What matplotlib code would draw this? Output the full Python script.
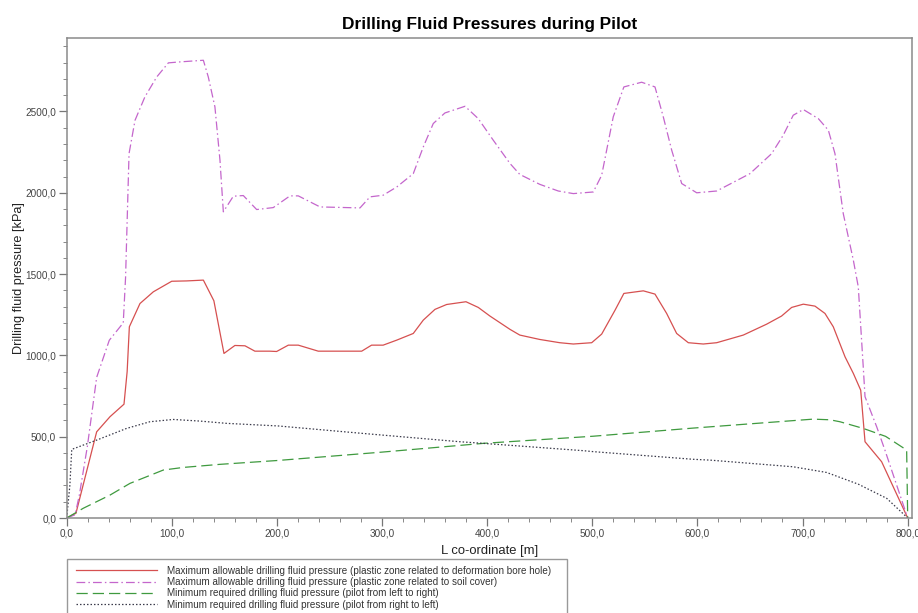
import matplotlib
matplotlib.use("Agg")
import matplotlib.pyplot as plt
from matplotlib.ticker import MultipleLocator, FuncFormatter
from matplotlib.patches import Rectangle

plt.rcParams['font.family'] = ['Liberation Sans', 'DejaVu Sans']

# --- data ---
red_x = [0, 8.8, 28.5, 41.2, 54.5, 57.5, 59.6, 69.7, 82.4, 99.9, 114, 130, 140, 149.6, 160, 169.6, 179,
         193, 199.7, 210.8, 220.3, 239.3, 280.6, 290, 301, 314, 329.7, 339.2, 350.3, 361.4, 379.8,
         391.5, 402.6, 421.7, 431, 450, 469, 481.9, 499.4, 508.9, 521.6, 530, 548.5, 559.6, 570.7,
         580.2, 591.3, 605.5, 618.3, 643.6, 665.8, 680, 689.6, 700.7, 711.8, 721.3, 729.2, 740.4,
         748.3, 755.3, 759.4, 775.2, 800]
red_y = [0, 29, 530, 623, 700, 900, 1176, 1319, 1391, 1456, 1458, 1463, 1336, 1012, 1061, 1059, 1026,
         1026, 1024, 1063, 1063, 1026, 1026, 1063, 1063, 1094, 1135, 1217, 1283, 1313, 1330,
         1295, 1242, 1160, 1125, 1098, 1078, 1070, 1078, 1131, 1278, 1381, 1397, 1377, 1258,
         1135, 1078, 1070, 1078, 1125, 1192, 1242, 1295, 1315, 1303, 1258, 1176, 991,
         889, 786, 469, 346, 0]

mag_x = [0, 8, 12, 19.6, 28.5, 40.5, 53.8, 56, 59.3, 65, 74.4, 85.6, 96.7, 107.8, 130, 134.7, 141,
         145.8, 149, 158.5, 168, 180.7, 196.5, 212.4, 220.3, 241, 279, 288.5, 301, 314, 329.7, 339.2,
         348.7, 359.8, 378.9, 391.5, 405.8, 421.7, 431, 450, 467.6, 481.9, 500.9, 508.9, 519.9, 530,
         546.9, 559.6, 567.5, 575.5, 585, 599.3, 618.3, 650, 670.6, 681.6, 691.1, 700.7, 715, 724.5,
         730.8, 738.7, 748.3, 753, 757.7, 759.4, 770.5, 778.3, 800]
mag_y = [0, 20, 140, 438, 865, 1093, 1200, 1480, 2241, 2446, 2590, 2712, 2799, 2805, 2815, 2712, 2528,
         2200, 1883, 1979, 1983, 1897, 1909, 1981, 1981, 1913, 1907, 1975, 1985, 2036, 2118, 2282,
         2426, 2491, 2532, 2456, 2323, 2180, 2113, 2052, 2011, 1995, 2005, 2108, 2467, 2651,
         2680, 2651, 2467, 2262, 2057, 2000, 2011, 2118, 2241, 2354, 2477, 2512, 2456, 2385,
         2241, 1872, 1585, 1421, 930, 746, 561, 418, 0]

grn_x = [0, 15.8, 41.2, 60.2, 76.1, 91.9, 110.9, 145.8, 201.3, 299.6, 396.3, 501, 596, 710, 726,
         735.5, 757.7, 779, 799, 800]
grn_y = [0, 60, 141, 213, 254, 295, 311, 330, 354, 405, 459, 503, 553, 608, 604,
         592, 551, 502, 418, 0]

blk_x = [0, 3, 4.8, 28.5, 57, 79.2, 101.4, 126.8, 152.2, 201.3, 282, 374, 396.3, 491.4, 501, 596,
         611.9, 691, 722.9, 753, 780, 800]
blk_y = [0, 200, 422, 479, 551, 592, 606, 596, 582, 566, 520, 469, 459, 414, 408, 361,
         356, 315, 280, 208, 121, 0]

labels = [
    "Maximum allowable drilling fluid pressure (plastic zone related to deformation bore hole)",
    "Maximum allowable drilling fluid pressure (plastic zone related to soil cover)",
    "Minimum required drilling fluid pressure (pilot from left to right)",
    "Minimum required drilling fluid pressure (pilot from right to left)",
]

W, H = 918, 613
fig = plt.figure(figsize=(W / 100, H / 100), dpi=100)
ax = fig.add_axes([66.7 / W, 1 - 518 / H, 845 / W, 480.5 / H])

l1, = ax.plot(red_x, red_y, color='#d65050', lw=0.9, ls='-')
l2, = ax.plot(mag_x, mag_y, color='#c466cc', lw=0.9, dashes=(7, 2.5, 1.2, 2.5))
l3, = ax.plot(grn_x, grn_y, color='#3f9a3f', lw=0.9, dashes=(9, 4))
l4, = ax.plot(blk_x, blk_y, color='#3a3a4a', lw=0.9, dashes=(1.2, 1.6))

ax.set_xlim(0, 803.8)
ax.set_ylim(0, 2955)
ax.xaxis.set_major_locator(MultipleLocator(100))
ax.xaxis.set_minor_locator(MultipleLocator(20))
ax.yaxis.set_major_locator(MultipleLocator(500))
ax.yaxis.set_minor_locator(MultipleLocator(100))
fmt = FuncFormatter(lambda v, p: ("%.1f" % v).replace('.', ','))
ax.xaxis.set_major_formatter(fmt)
ax.yaxis.set_major_formatter(fmt)
ax.tick_params(which='major', direction='out', length=5.5, width=0.9, color='#777777',
               labelsize=7.2, labelcolor='#444444', pad=2)
ax.tick_params(which='minor', direction='out', length=2.8, width=0.7, color='#888888')
for s in ax.spines.values():
    s.set_color('#8a8a8a')
    s.set_linewidth(1.1)

ax.set_title("Drilling Fluid Pressures during Pilot", fontsize=12.4, fontweight='bold', pad=6)
ax.set_xlabel("L co-ordinate [m]", fontsize=9.4, color='#222222')
ax.xaxis.set_label_coords(0.5, -0.057)
ax.set_ylabel("Drilling fluid pressure [kPa]", fontsize=9.2, color='#222222')
ax.yaxis.set_label_coords(-0.049, 0.5)

# legend box
fig.patches.append(Rectangle((66.7 / W, 1 - 640 / H), 500 / W, 81 / H, transform=fig.transFigure,
                             fill=False, edgecolor='#999999', lw=1.0, clip_on=False))
leg = fig.legend([l1, l2, l3, l4], labels, loc='upper left',
                 bbox_to_anchor=(76 / W, 1 - 565.5 / H), bbox_transform=fig.transFigure,
                 frameon=False, fontsize=7.1, handlelength=8.2, handletextpad=1.0,
                 labelspacing=0.15, borderpad=0, borderaxespad=0)
for t in leg.get_texts():
    t.set_color('#333333')

fig.savefig("out.png", dpi=100)
